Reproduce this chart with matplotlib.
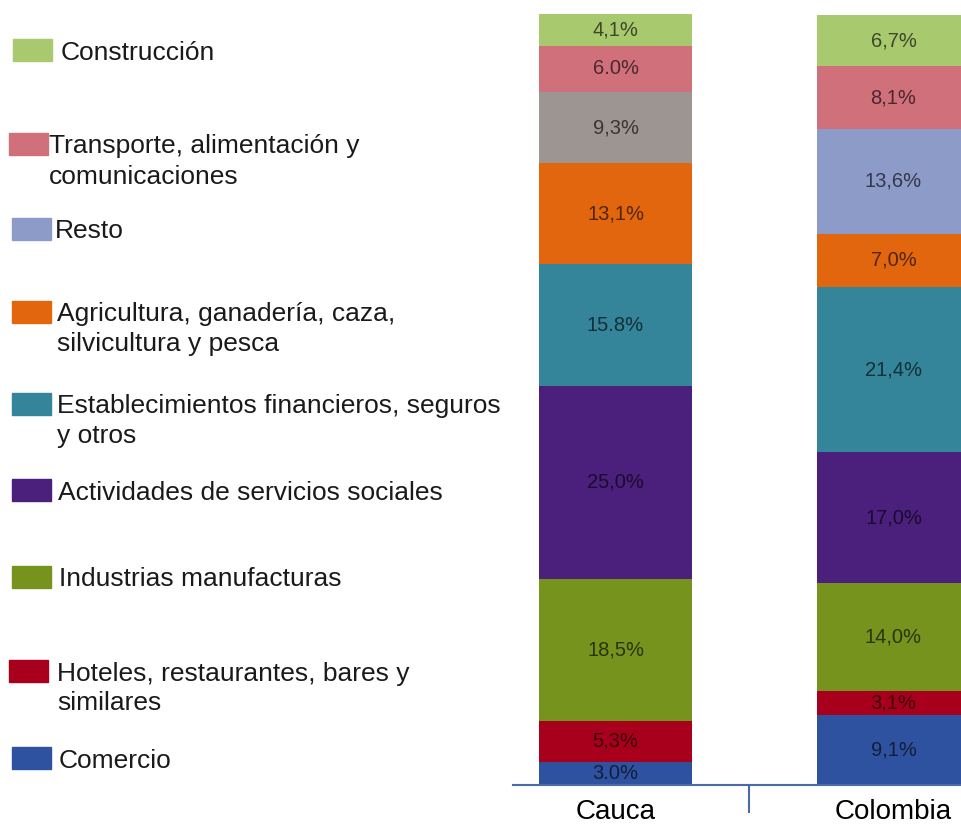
import matplotlib
matplotlib.use("Agg")
import matplotlib.pyplot as plt
from matplotlib.patches import Rectangle
from matplotlib.colors import to_rgb

plt.rcParams['font.family'] = ['Liberation Sans', 'DejaVu Sans']

# ---- data ----
regions = ["Cauca", "Colombia"]
sectors = ["Comercio", "Hoteles, restaurantes, bares y\nsimilares", "Industrias manufacturas",
           "Actividades de servicios sociales", "Establecimientos financieros, seguros\ny otros",
           "Agricultura, ganadería, caza,\nsilvicultura y pesca", "Resto",
           "Transporte, alimentación y\ncomunicaciones", "Construcción"]
cauca_values = [3.0, 5.3, 18.5, 25.0, 15.8, 13.1, 9.3, 6.0, 4.1]
colombia_values = [9.1, 3.1, 14.0, 17.0, 21.4, 7.0, 13.6, 8.1, 6.7]
cauca_labels = ["3.0%", "5,3%", "18,5%", "25,0%", "15.8%", "13,1%", "9,3%", "6.0%", "4,1%"]
colombia_labels = ["9,1%", "3,1%", "14,0%", "17,0%", "21,4%", "7,0%", "13,6%", "8,1%", "6,7%"]

sector_colors = ["#2f52a0", "#a8001c", "#76931e", "#4b1f7c", "#34849a",
                 "#e1660e", "#8d9bc9", "#d0707b", "#a9c96f"]
# Cauca's "Resto" segment is drawn in grey in the original
cauca_colors = list(sector_colors)
cauca_colors[6] = "#9c9592"

def dark(c, f=0.36):
    r, g, b = to_rgb(c)
    return (r * f, g * f, b * f)

fig = plt.figure(figsize=(9.61, 8.25), dpi=100)
W, H = 961, 825

ax_left, ax_right = 513, 961
ax_bottom, ax_top = 785, 14
ax = fig.add_axes([ax_left / W, (H - ax_bottom) / H, (ax_right - ax_left) / W,
                   (ax_bottom - ax_top) / H])

bar_w = 0.55
series = [(cauca_values, cauca_labels, cauca_colors),
          (colombia_values, colombia_labels, sector_colors)]
for xi, (vals, labs, cols) in enumerate(series):
    bottom = 0.0
    for v, lab, c in zip(vals, labs, cols):
        ax.bar(xi, v, bottom=bottom, width=bar_w, color=c, edgecolor='none')
        ax.text(xi, bottom + v / 2, lab, ha='center', va='center',
                fontsize=14.5, color=dark(c))
        bottom += v

ax.set_xlim(-0.369, 1.243)
ax.set_ylim(0, 100.1)
for s in ['left', 'right', 'top']:
    ax.spines[s].set_visible(False)
ax.spines['bottom'].set_color('#4a6aa8')
ax.spines['bottom'].set_linewidth(1.5)
ax.set_yticks([])
ax.set_xticks([0, 1])
ax.set_xticklabels(regions, fontsize=20)
ax.tick_params(axis='x', which='major', length=0, pad=10)
ax.set_xticks([0.48], minor=True)
ax.tick_params(axis='x', which='minor', length=20, width=1.5, color='#4a6aa8', direction='out')

# ---- legend (manual, top to bottom) ----
legend_order = [8, 7, 6, 5, 4, 3, 2, 1, 0]
legend_y = [50, 144, 229, 312, 404, 490, 577, 671, 758]   # centre of first line (px)
patch_x = [13, 9, 12, 12, 12, 12, 12, 9, 12]
text_x = [61, 49, 55, 57, 57, 58, 59, 57, 59]
for k, idx in enumerate(legend_order):
    yc = legend_y[k]
    fig.patches.append(Rectangle((patch_x[k] / W, (H - yc - 11) / H), 39 / W, 22 / H,
                                 transform=fig.transFigure, color=sector_colors[idx],
                                 edgecolor='none'))
    lines = sectors[idx].split("\n")
    for j, line in enumerate(lines):
        fig.text(text_x[k] / W, (H - (yc + 9.5 + 30 * j)) / H, line, ha='left',
                 va='baseline', fontsize=19, color='#1a1a1a')

fig.savefig("out.png", dpi=100, facecolor='white')
